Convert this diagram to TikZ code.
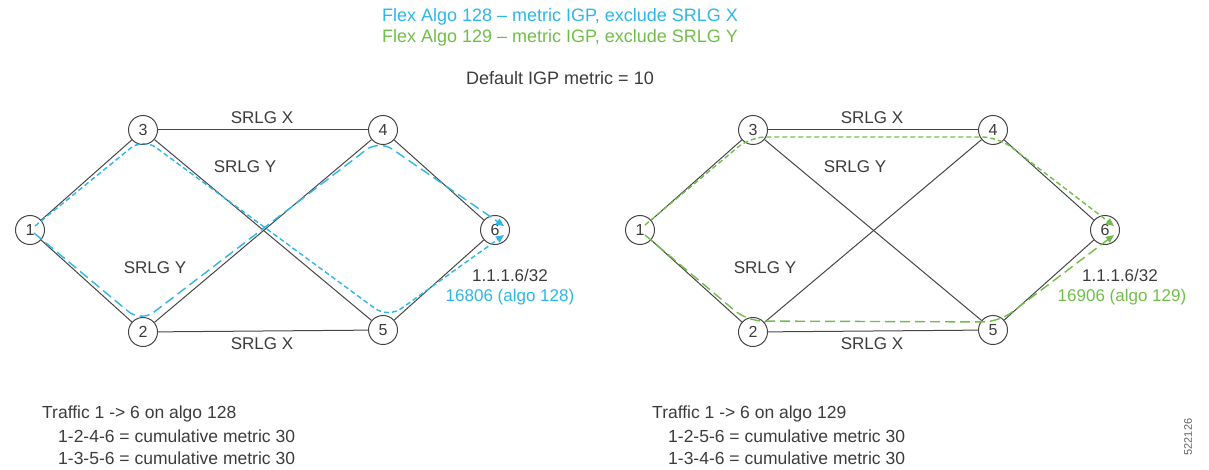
\documentclass[tikz,border=0pt]{standalone}
\usepackage{fontspec}
\setmainfont{Liberation Sans}
\usetikzlibrary{arrows.meta}
\definecolor{fablue}{RGB}{45,182,232}
\definecolor{fagreen}{RGB}{112,190,72}
\definecolor{txt}{RGB}{60,60,60}
\definecolor{edge}{RGB}{70,70,70}
\begin{document}
\begin{tikzpicture}[x=1pt,y=-1pt,
  rtr/.style={circle, draw=edge, line width=1pt, fill=white, minimum size=29pt, inner sep=0pt, font=\fontsize{16}{16}\selectfont, text=txt},
  link/.style={draw=edge, line width=1pt},
  lbl/.style={font=\fontsize{17}{17}\selectfont, text=txt, inner sep=0pt},
  shortdash/.style={dash pattern=on 5pt off 3pt, line width=1.4pt, rounded corners=16pt, -{Triangle[length=8pt,width=7pt]}},
  longdash/.style={dash pattern=on 10pt off 5pt, line width=1.4pt, rounded corners=16pt, -{Triangle[length=8pt,width=7pt]}},
  txtl/.style={font=\fontsize{17.5}{17.5}\selectfont, text=txt, inner sep=0pt, anchor=west}]
\useasboundingbox (0,0) rectangle (1209,470);

% titles
\node[lbl, text=fablue, font=\fontsize{18}{18}\selectfont] (t1) at (560,17) {Flex Algo 128 – metric IGP, exclude SRLG X};
\node[lbl, text=fagreen, font=\fontsize{18}{18}\selectfont] (t2) at (560,38) {Flex Algo 129 – metric IGP, exclude SRLG Y};
\node[lbl, font=\fontsize{18}{18}\selectfont] (t3) at (560,78) {Default IGP metric = 10};

% left graph nodes
\node[rtr] (L1) at (30,230) {1};
\node[rtr] (L3) at (143,130) {3};
\node[rtr] (L2) at (143,332) {2};
\node[rtr] (L4) at (383,130) {4};
\node[rtr] (L5) at (383,330) {5};
\node[rtr] (L6) at (495,230) {6};

% right graph nodes
\node[rtr] (R1) at (640,230) {1};
\node[rtr] (R3) at (753,130) {3};
\node[rtr] (R2) at (753,332) {2};
\node[rtr] (R4) at (993,130) {4};
\node[rtr] (R5) at (993,330) {5};
\node[rtr] (R6) at (1105,230) {6};

% links
\foreach \g in {L,R}{
  \draw[link] (\g1) -- (\g3);
  \draw[link] (\g1) -- (\g2);
  \draw[link] (\g3) -- (\g4);
  \draw[link] (\g2) -- (\g5);
  \draw[link] (\g3) -- (\g5);
  \draw[link] (\g2) -- (\g4);
  \draw[link] (\g4) -- (\g6);
  \draw[link] (\g5) -- (\g6);
}

% labels left
\node[lbl] (lx1) at (262,118) {SRLG X};
\node[lbl] (ly1) at (245,167) {SRLG Y};
\node[lbl] (ly2) at (155,268) {SRLG Y};
\node[lbl] (lx2) at (262,344) {SRLG X};
\node[lbl] (lp) at (510,275) {1.1.1.6/32};
\node[lbl, text=fablue] (lsid) at (510,297) {16806 (algo 128)};

% labels right
\node[lbl] (rx1) at (872,118) {SRLG X};
\node[lbl] (ry1) at (855,167) {SRLG Y};
\node[lbl] (ry2) at (765,268) {SRLG Y};
\node[lbl] (rx2) at (872,344) {SRLG X};
\node[lbl] (rp) at (1120,275) {1.1.1.6/32};
\node[lbl, text=fagreen] (rsid) at (1122,297) {16906 (algo 129)};

% left paths (blue)
\draw[shortdash, draw=fablue] ([shift={(5,-4)}]L1.center) -- ([shift={(0,8)}]L3.center) -- ([shift={(5,-12)}]L5.center) -- ([shift={(9,5)}]L6.center);
\draw[longdash, draw=fablue] ([shift={(4,3)}]L1.center) -- ([shift={(-2,-10)}]L2.center) -- ([shift={(-4,10)}]L4.center) -- ([shift={(9,-4)}]L6.center);

% right paths (green)
\draw[shortdash, draw=fagreen] ([shift={(5,-5)}]R1.center) -- ([shift={(-3,7)}]R3.center) -- ([shift={(5,7)}]R4.center) -- ([shift={(9,-4)}]R6.center);
\draw[longdash, draw=fagreen] ([shift={(5,5)}]R1.center) -- ([shift={(-6,-11)}]R2.center) -- ([shift={(6,-8)}]R5.center) -- ([shift={(9,5)}]R6.center);

% bottom text
\node[txtl] (bl1) at (42,414) {Traffic 1 -> 6 on algo 128};
\node[txtl] (bl2) at (58,436) {1-2-4-6 = cumulative metric 30};
\node[txtl] (bl3) at (58,458) {1-3-5-6 = cumulative metric 30};
\node[txtl] (br1) at (652,414) {Traffic 1 -> 6 on algo 129};
\node[txtl] (br2) at (668,436) {1-2-5-6 = cumulative metric 30};
\node[txtl] (br3) at (668,458) {1-3-4-6 = cumulative metric 30};

\node[font=\fontsize{11}{11}\selectfont, text=txt!80, rotate=90, inner sep=0pt] (fig) at (1188,437) {522126};
\end{tikzpicture}
\end{document}
